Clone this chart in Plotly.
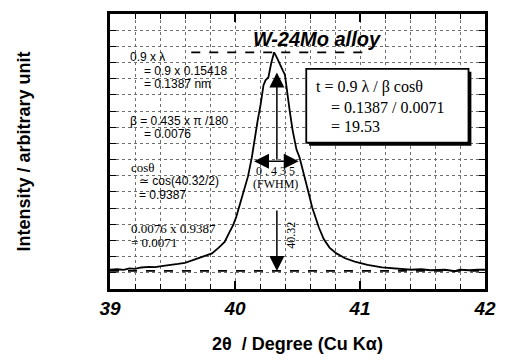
import plotly.graph_objects as go

# XRD profile of the W-24Mo (110) reflection
two_theta = [39.000, 39.060, 39.110, 39.155, 39.200, 39.250, 39.311, 39.360, 39.427, 39.480,
             39.544, 39.600, 39.661, 39.738, 39.816, 39.870, 39.917, 39.956, 39.987, 40.010,
             40.041, 40.072, 40.104, 40.135, 40.158, 40.181, 40.205, 40.228, 40.244, 40.267,
             40.290, 40.313, 40.337, 40.360, 40.383, 40.399, 40.414, 40.438, 40.461, 40.492,
             40.516, 40.554, 40.585, 40.617, 40.640, 40.671, 40.710, 40.756, 40.811, 40.881,
             40.958, 41.060, 41.176, 41.293, 41.409, 41.490, 41.565, 41.681, 41.759, 41.798,
             41.876, 41.940, 42.000]
intensity = [1.19, 1.22, 1.18, 1.28, 1.25, 1.33, 1.37, 1.35, 1.43, 1.47,
             1.55, 1.62, 1.78, 1.96, 2.20, 2.56, 2.91, 3.51, 3.98, 4.46,
             5.29, 6.12, 6.96, 8.15, 9.33, 10.40, 11.41, 12.60, 12.90, 13.08,
             13.97, 14.63, 14.27, 13.85, 13.50, 13.26, 12.31, 11.00, 9.81, 8.62,
             8.15, 7.07, 6.06, 5.05, 4.46, 3.80, 3.09, 2.56, 2.20, 1.90,
             1.69, 1.49, 1.34, 1.25, 1.19, 1.22, 1.16, 1.19, 1.10, 1.19,
             1.16, 1.20, 1.19]

peak_pos = 40.32        # 2θ at maximum
peak_level = 14.63      # maximum intensity
background = 1.12       # background level
fwhm_half = 7.9         # half-maximum level
fwhm_left, fwhm_right = 40.14, 40.51

x_ticks = [39, 40, 41, 42]

fig = go.Figure()

# dashed reference levels (peak top and background)
fig.add_trace(go.Scatter(x=[39.65, 41.02], y=[peak_level, peak_level], mode="lines",
                         line=dict(color="black", width=1.6, dash="dash"), hoverinfo="skip"))
fig.add_trace(go.Scatter(x=[39.0, 42.0], y=[background, background], mode="lines",
                         line=dict(color="black", width=1.6, dash="dash"), hoverinfo="skip"))

fig.add_trace(go.Scatter(x=two_theta, y=intensity, mode="lines",
                         line=dict(color="black", width=1.8), hoverinfo="skip"))

sans = "Liberation Sans, Arial, sans-serif"
serif = "Liberation Serif, Times New Roman, serif"

ann = []

def txt(x, y, s, font=sans, size=12, anchor="left", **kw):
    ann.append(dict(x=x, y=y, xref="x", yref="y", text=s, showarrow=False,
                    xanchor=anchor, yanchor="middle",
                    font=dict(family=font, size=size, color="black"), **kw))

# left-hand calculation notes
txt(39.14, 14.33, "0.9 x λ")
txt(39.256, 13.50, "= 0.9 x 0.15418")
txt(39.256, 12.66, "= 0.1387 nm")
txt(39.14, 10.40, "β = 0.435 x π /180")
txt(39.256, 9.57, "= 0.0076")
txt(39.155, 7.49, "cosθ", font=serif, size=13)
txt(39.218, 6.66, "≃ cos(40.32/2)")
txt(39.218, 5.83, "= 0.9387")
txt(39.155, 3.75, "0.0076 x 0.9387", font=serif, size=13)
txt(39.155, 2.85, "= 0.0071", font=serif, size=13)

# sample name
txt(40.655, 15.45, "<b><i>W-24Mo alloy</i></b>", size=20, anchor="center")

# crystallite size formula box
txt(40.632, 12.49, "t = 0.9 λ / β cosθ", font=serif, size=16)
txt(40.749, 11.24, "= 0.1387 / 0.0071", font=serif, size=16)
txt(40.749, 10.05, "= 19.53", font=serif, size=16)

# FWHM labels
txt(40.325, 7.30, "0 . 4 3 5", font=serif, size=12, anchor="center")
txt(40.325, 6.52, "(FWHM)", font=serif, size=12, anchor="center")
txt(40.445, 3.33, "40.32", font=serif, size=12, anchor="center", textangle=-90)

# arrows
def arrow(x0, y0, x1, y1, side="end"):
    ann.append(dict(x=x1, y=y1, ax=x0, ay=y0, xref="x", yref="y", axref="x", ayref="y",
                    text="", showarrow=True, arrowhead=2, arrowsize=2.0, arrowwidth=1.5,
                    arrowcolor="black", arrowside=side))

arrow(fwhm_left, fwhm_half, fwhm_right, fwhm_half, side="end+start")
arrow(40.335, fwhm_half, 40.335, 13.38)
arrow(40.335, 4.95, 40.335, background)

shapes = [
    # drop shadow and framed box
    dict(type="rect", xref="x", yref="y", x0=40.593, x1=41.891, y0=8.86, y1=13.43,
         fillcolor="black", line=dict(width=0), layer="above"),
    dict(type="rect", xref="x", yref="y", x0=40.570, x1=41.868, y0=9.04, y1=13.61,
         fillcolor="white", line=dict(color="black", width=1.8), layer="above"),
]

grid_col = "#6f6f6f"

fig.update_layout(
    width=507, height=362,
    margin=dict(l=110, r=11, t=11, b=65),
    paper_bgcolor="white", plot_bgcolor="white",
    showlegend=False,
    annotations=ann,
    shapes=shapes,
    xaxis=dict(
        range=[39, 42], tickvals=x_ticks, ticktext=[str(v) for v in x_ticks],
        ticks="inside", ticklen=8, tickwidth=1.5, tickcolor="black",
        showline=True, linewidth=2.5, linecolor="black", mirror="ticks",
        showgrid=True, gridcolor=grid_col, griddash="dot", gridwidth=1,
        minor=dict(dtick=0.2, tick0=39, ticks="inside", ticklen=5, tickwidth=1,
                   tickcolor="black", showgrid=True, gridcolor=grid_col,
                   griddash="dot", gridwidth=1),
        tickfont=dict(family=sans, size=19, color="black", weight="bold", style="italic"),
        title=dict(text="<b>2θ  / Degree (Cu Kα)</b>", standoff=20,
                   font=dict(family=sans, size=18, color="black")),
        zeroline=False,
    ),
    yaxis=dict(
        range=[0, 17], dtick=1, showticklabels=False,
        ticks="inside", ticklen=6, tickwidth=1.2, tickcolor="black",
        showline=True, linewidth=2.5, linecolor="black", mirror="ticks",
        showgrid=True, gridcolor=grid_col, griddash="dot", gridwidth=1,
        title=dict(text="<b>Intensity / arbitrary unit</b>", standoff=72,
                   font=dict(family=sans, size=18, color="black")),
        zeroline=False,
    ),
)

fig.write_html("out.html")
